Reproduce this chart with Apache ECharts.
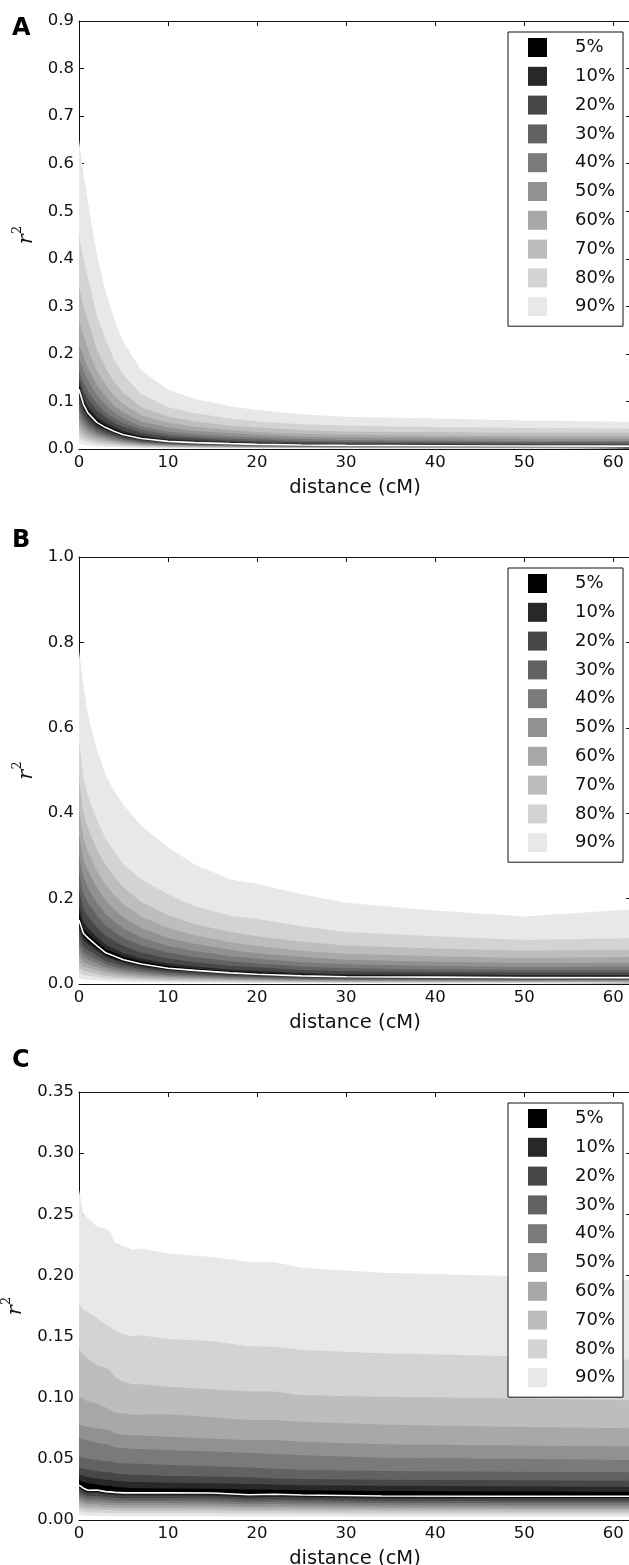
<!DOCTYPE html>
<html>
<head>
<meta charset="utf-8">
<script src="https://cdn.jsdelivr.net/npm/echarts@6/dist/echarts.min.js"></script>
<style>
  html, body { margin: 0; padding: 0; background: #fff; }
  #chart { width: 629px; height: 1565px; }
</style>
</head>
<body>
<div id="chart"></div>
<script>
// Central interval widths and their grey levels (innermost = darkest)
const bandLabels = ['5%', '10%', '20%', '30%', '40%', '50%', '60%', '70%', '80%', '90%'];
const bandColors = ['#000000', '#282828', '#474747', '#626262', '#7a7a7a', '#919191', '#a8a8a8', '#bdbdbd', '#d3d3d3', '#e8e8e8'];

// ---------- Panel A: r^2 quantiles vs distance (cM) ----------
const distA = [0, 0.5, 1, 2, 3, 4, 5, 7, 10, 13, 17, 20, 25, 30, 40, 50, 62];
const A_q95  = [0.65, 0.58, 0.52, 0.41, 0.33, 0.27, 0.225, 0.165, 0.125, 0.105, 0.09, 0.082, 0.073, 0.068, 0.064, 0.060, 0.057];
const A_q90  = [0.45, 0.40, 0.36, 0.28, 0.23, 0.185, 0.155, 0.115, 0.088, 0.075, 0.064, 0.058, 0.052, 0.049, 0.046, 0.044, 0.043];
const A_q85  = [0.34, 0.30, 0.27, 0.21, 0.17, 0.14, 0.118, 0.088, 0.068, 0.058, 0.049, 0.045, 0.040, 0.037, 0.035, 0.034, 0.034];
const A_q80  = [0.27, 0.24, 0.21, 0.165, 0.135, 0.111, 0.094, 0.071, 0.055, 0.047, 0.040, 0.036, 0.032, 0.030, 0.028, 0.027, 0.027];
const A_q75  = [0.22, 0.195, 0.17, 0.135, 0.11, 0.09, 0.077, 0.058, 0.045, 0.038, 0.033, 0.030, 0.026, 0.024, 0.023, 0.022, 0.022];
const A_q70  = [0.19, 0.165, 0.145, 0.113, 0.092, 0.076, 0.064, 0.048, 0.037, 0.031, 0.027, 0.024, 0.021, 0.019, 0.018, 0.017, 0.017];
const A_q65  = [0.165, 0.14, 0.122, 0.095, 0.077, 0.064, 0.054, 0.041, 0.031, 0.026, 0.022, 0.020, 0.017, 0.016, 0.015, 0.014, 0.014];
const A_q60  = [0.15, 0.122, 0.105, 0.081, 0.066, 0.054, 0.046, 0.034, 0.026, 0.022, 0.018, 0.016, 0.014, 0.013, 0.012, 0.011, 0.0105];
const A_q55  = [0.14, 0.108, 0.090, 0.068, 0.055, 0.046, 0.038, 0.028, 0.021, 0.018, 0.015, 0.013, 0.011, 0.010, 0.0092, 0.0086, 0.0082];
const A_q525 = [0.133, 0.100, 0.082, 0.062, 0.050, 0.041, 0.034, 0.025, 0.0185, 0.0155, 0.013, 0.0113, 0.0097, 0.0088, 0.0080, 0.0075, 0.0071];
const A_med  = [0.125, 0.094, 0.076, 0.056, 0.045, 0.037, 0.030, 0.022, 0.016, 0.0135, 0.0112, 0.0098, 0.0085, 0.0077, 0.0069, 0.0064, 0.0061];
const A_q475 = [0.117, 0.088, 0.071, 0.052, 0.042, 0.034, 0.028, 0.0204, 0.0148, 0.0125, 0.0104, 0.0091, 0.0079, 0.0071, 0.0064, 0.0059, 0.0056];
const A_q45  = [0.109, 0.082, 0.066, 0.048, 0.039, 0.032, 0.026, 0.0189, 0.0137, 0.0116, 0.0096, 0.0084, 0.0073, 0.0066, 0.0059, 0.0055, 0.0052];
const A_q40  = [0.095, 0.071, 0.057, 0.042, 0.034, 0.028, 0.0225, 0.0163, 0.0118, 0.0100, 0.0083, 0.0072, 0.0063, 0.0057, 0.0051, 0.0047, 0.0045];
const A_q35  = [0.082, 0.061, 0.049, 0.036, 0.029, 0.024, 0.0193, 0.014, 0.0101, 0.0086, 0.0071, 0.0062, 0.0054, 0.0049, 0.0044, 0.0040, 0.0039];
const A_q30  = [0.069, 0.052, 0.042, 0.031, 0.025, 0.020, 0.0165, 0.012, 0.0087, 0.0073, 0.0061, 0.0053, 0.0046, 0.0042, 0.0037, 0.0034, 0.0033];
const A_q25  = [0.057, 0.043, 0.035, 0.026, 0.021, 0.0168, 0.0138, 0.010, 0.0073, 0.0061, 0.0051, 0.0044, 0.0038, 0.0035, 0.0031, 0.0029, 0.0027];
const A_q20  = [0.046, 0.035, 0.028, 0.021, 0.0168, 0.0137, 0.0112, 0.0081, 0.0059, 0.005, 0.0041, 0.0036, 0.0031, 0.0028, 0.0025, 0.0023, 0.0022];
const A_q15  = [0.035, 0.026, 0.021, 0.0157, 0.0127, 0.0104, 0.0085, 0.0062, 0.0045, 0.0038, 0.0031, 0.0027, 0.0024, 0.0022, 0.0019, 0.0018, 0.0017];
const A_q10  = [0.024, 0.018, 0.0145, 0.0107, 0.0086, 0.0071, 0.0058, 0.0042, 0.0031, 0.0026, 0.0021, 0.0019, 0.0016, 0.0015, 0.0013, 0.0012, 0.0012];
const A_q5   = [0.012, 0.009, 0.0073, 0.0054, 0.0044, 0.0036, 0.0029, 0.0021, 0.0016, 0.0013, 0.0011, 0.0009, 0.0008, 0.0007, 0.0007, 0.0006, 0.0006];

// ---------- Panel B ----------
const distB = [0, 0.5, 1, 2, 3, 4, 5, 7, 10, 13, 17, 20, 25, 30, 40, 50, 62];
const B_q95  = [0.78, 0.70, 0.63, 0.55, 0.49, 0.45, 0.42, 0.37, 0.32, 0.28, 0.245, 0.235, 0.21, 0.19, 0.172, 0.158, 0.175];
const B_q90  = [0.57, 0.48, 0.44, 0.385, 0.34, 0.31, 0.28, 0.245, 0.21, 0.182, 0.16, 0.152, 0.135, 0.122, 0.112, 0.103, 0.107];
const B_q85  = [0.48, 0.40, 0.365, 0.315, 0.278, 0.25, 0.226, 0.192, 0.161, 0.14, 0.122, 0.112, 0.099, 0.090, 0.083, 0.078, 0.080];
const B_q80  = [0.41, 0.34, 0.31, 0.265, 0.232, 0.208, 0.187, 0.158, 0.131, 0.114, 0.098, 0.089, 0.078, 0.071, 0.065, 0.061, 0.063];
const B_q75  = [0.35, 0.29, 0.265, 0.225, 0.195, 0.174, 0.156, 0.131, 0.108, 0.094, 0.080, 0.072, 0.063, 0.057, 0.052, 0.049, 0.050];
const B_q70  = [0.30, 0.25, 0.225, 0.19, 0.163, 0.145, 0.130, 0.109, 0.089, 0.077, 0.065, 0.059, 0.051, 0.046, 0.042, 0.040, 0.041];
const B_q65  = [0.26, 0.21, 0.19, 0.160, 0.137, 0.121, 0.108, 0.090, 0.073, 0.063, 0.053, 0.048, 0.041, 0.037, 0.034, 0.033, 0.033];
const B_q60  = [0.22, 0.175, 0.158, 0.133, 0.113, 0.100, 0.089, 0.074, 0.060, 0.051, 0.043, 0.039, 0.033, 0.030, 0.028, 0.027, 0.027];
const B_q55  = [0.185, 0.145, 0.131, 0.110, 0.092, 0.082, 0.072, 0.060, 0.048, 0.041, 0.034, 0.031, 0.026, 0.023, 0.022, 0.021, 0.021];
const B_q525 = [0.165, 0.13, 0.118, 0.099, 0.082, 0.073, 0.064, 0.053, 0.042, 0.036, 0.030, 0.027, 0.022, 0.020, 0.019, 0.018, 0.018];
const B_med  = [0.150, 0.119, 0.108, 0.090, 0.073, 0.065, 0.057, 0.047, 0.037, 0.032, 0.026, 0.023, 0.019, 0.017, 0.016, 0.015, 0.015];
const B_q475 = [0.140, 0.111, 0.100, 0.084, 0.068, 0.060, 0.053, 0.044, 0.034, 0.030, 0.024, 0.021, 0.0177, 0.0158, 0.0149, 0.0140, 0.0140];
const B_q45  = [0.129, 0.102, 0.093, 0.077, 0.063, 0.056, 0.049, 0.040, 0.032, 0.0275, 0.0224, 0.0198, 0.0163, 0.0146, 0.0138, 0.0129, 0.0129];
const B_q40  = [0.111, 0.088, 0.080, 0.067, 0.054, 0.048, 0.042, 0.035, 0.0274, 0.0237, 0.0192, 0.017, 0.0141, 0.0126, 0.0118, 0.0111, 0.0111];
const B_q35  = [0.095, 0.075, 0.068, 0.057, 0.046, 0.041, 0.036, 0.0296, 0.0233, 0.0202, 0.0164, 0.0145, 0.012, 0.0107, 0.0101, 0.0095, 0.0095];
const B_q30  = [0.080, 0.063, 0.057, 0.048, 0.0387, 0.0345, 0.0302, 0.0249, 0.0196, 0.017, 0.0138, 0.0122, 0.0101, 0.009, 0.0085, 0.008, 0.008];
const B_q25  = [0.066, 0.052, 0.0475, 0.0396, 0.0321, 0.0286, 0.0251, 0.0207, 0.0163, 0.0141, 0.0114, 0.0101, 0.0084, 0.0075, 0.007, 0.0066, 0.0066];
const B_q20  = [0.0525, 0.0417, 0.0378, 0.0315, 0.0256, 0.0228, 0.02, 0.0165, 0.013, 0.0112, 0.0091, 0.0081, 0.0067, 0.006, 0.0056, 0.0053, 0.0053];
const B_q15  = [0.039, 0.031, 0.0281, 0.0234, 0.019, 0.0169, 0.0148, 0.0122, 0.0096, 0.0083, 0.0068, 0.006, 0.0049, 0.0044, 0.0042, 0.0039, 0.0039];
const B_q10  = [0.027, 0.0214, 0.0194, 0.0162, 0.0131, 0.0117, 0.0103, 0.0085, 0.0067, 0.0058, 0.0047, 0.0041, 0.0034, 0.0031, 0.0029, 0.0027, 0.0027];
const B_q5   = [0.0135, 0.0107, 0.0097, 0.0081, 0.0066, 0.0059, 0.0051, 0.0042, 0.0033, 0.0029, 0.0023, 0.0021, 0.0017, 0.0015, 0.0014, 0.0014, 0.0014];

// ---------- Panel C ----------
const distC = [0, 0.5, 1, 2, 3, 3.5, 4, 5, 6, 7, 10, 15, 19, 22, 25, 34, 48, 62];
const C_q95  = [0.27, 0.25, 0.247, 0.240, 0.238, 0.236, 0.227, 0.224, 0.221, 0.222, 0.218, 0.215, 0.211, 0.2107, 0.2063, 0.2022, 0.1995, 0.196];
const C_q90  = [0.176, 0.172, 0.170, 0.165, 0.160, 0.158, 0.155, 0.152, 0.150, 0.151, 0.148, 0.1464, 0.142, 0.1417, 0.139, 0.1363, 0.1341, 0.131];
const C_q85  = [0.140, 0.135, 0.132, 0.127, 0.124, 0.1227, 0.117, 0.113, 0.111, 0.111, 0.109, 0.107, 0.105, 0.105, 0.102, 0.1008, 0.0995, 0.098];
const C_q80  = [0.101, 0.099, 0.097, 0.0955, 0.092, 0.090, 0.088, 0.0872, 0.086, 0.086, 0.0865, 0.084, 0.0818, 0.0818, 0.0804, 0.078, 0.0763, 0.075];
const C_q75  = [0.078, 0.077, 0.076, 0.075, 0.074, 0.0736, 0.071, 0.0695, 0.069, 0.069, 0.068, 0.0665, 0.0654, 0.0654, 0.064, 0.062, 0.061, 0.060];
const C_q70  = [0.067, 0.066, 0.065, 0.063, 0.062, 0.061, 0.0595, 0.0586, 0.058, 0.058, 0.057, 0.056, 0.055, 0.054, 0.053, 0.051, 0.050, 0.049];
const C_q65  = [0.052, 0.051, 0.050, 0.049, 0.048, 0.048, 0.047, 0.0465, 0.046, 0.046, 0.045, 0.044, 0.043, 0.042, 0.041, 0.040, 0.0395, 0.039];
const C_q60  = [0.043, 0.042, 0.041, 0.040, 0.039, 0.039, 0.038, 0.0375, 0.037, 0.037, 0.036, 0.0355, 0.035, 0.034, 0.0335, 0.033, 0.0325, 0.032];
const C_q55  = [0.037, 0.036, 0.035, 0.034, 0.033, 0.033, 0.032, 0.0315, 0.031, 0.031, 0.0305, 0.030, 0.0295, 0.029, 0.0285, 0.028, 0.0275, 0.027];
const C_q525 = [0.033, 0.031, 0.030, 0.029, 0.028, 0.028, 0.027, 0.0265, 0.026, 0.026, 0.0258, 0.0255, 0.025, 0.0248, 0.0243, 0.0238, 0.0233, 0.023];
const C_med  = [0.0286, 0.026, 0.0243, 0.0245, 0.0232, 0.023, 0.0226, 0.0222, 0.0222, 0.0222, 0.0222, 0.0221, 0.0206, 0.021, 0.0205, 0.0196, 0.0194, 0.0194];
const C_q475 = [0.0272, 0.0247, 0.0231, 0.0233, 0.022, 0.0219, 0.0215, 0.0211, 0.0211, 0.0211, 0.0211, 0.021, 0.0196, 0.02, 0.0195, 0.0186, 0.0184, 0.0184];
const C_q45  = [0.0257, 0.0234, 0.0219, 0.022, 0.0209, 0.0207, 0.0203, 0.02, 0.02, 0.02, 0.02, 0.0199, 0.0185, 0.0189, 0.0185, 0.0176, 0.0175, 0.0175];
const C_q40  = [0.0229, 0.0208, 0.0194, 0.0196, 0.0186, 0.0184, 0.0181, 0.0178, 0.0178, 0.0178, 0.0178, 0.0177, 0.0165, 0.0168, 0.0164, 0.0157, 0.0155, 0.0155];
const C_q35  = [0.0203, 0.0185, 0.0173, 0.0174, 0.0165, 0.0163, 0.016, 0.0158, 0.0158, 0.0158, 0.0158, 0.0157, 0.0146, 0.0149, 0.0146, 0.0139, 0.0138, 0.0138];
const C_q30  = [0.0177, 0.0161, 0.0151, 0.0152, 0.0144, 0.0143, 0.014, 0.0138, 0.0138, 0.0138, 0.0138, 0.0137, 0.0128, 0.013, 0.0127, 0.0122, 0.012, 0.012];
const C_q25  = [0.0152, 0.0138, 0.0129, 0.013, 0.0123, 0.0122, 0.012, 0.0118, 0.0118, 0.0118, 0.0118, 0.0117, 0.0109, 0.0111, 0.0109, 0.0104, 0.0103, 0.0103];
const C_q20  = [0.0126, 0.0114, 0.0107, 0.0108, 0.0102, 0.0101, 0.0099, 0.0098, 0.0098, 0.0098, 0.0098, 0.0097, 0.0091, 0.0092, 0.009, 0.0086, 0.0085, 0.0085];
const C_q15  = [0.01, 0.0091, 0.0085, 0.0086, 0.0081, 0.0081, 0.0079, 0.0078, 0.0078, 0.0078, 0.0078, 0.0077, 0.0072, 0.0074, 0.0072, 0.0069, 0.0068, 0.0068];
const C_q10  = [0.0072, 0.0065, 0.0061, 0.0061, 0.0058, 0.0058, 0.0057, 0.0056, 0.0056, 0.0056, 0.0056, 0.0055, 0.0052, 0.0053, 0.0051, 0.0049, 0.0049, 0.0049];
const C_q5   = [0.004, 0.0036, 0.0034, 0.0034, 0.0032, 0.0032, 0.0032, 0.0031, 0.0031, 0.0031, 0.0031, 0.0031, 0.0029, 0.0029, 0.0029, 0.0027, 0.0027, 0.0027];

// Axis tick settings per panel
const xTicks = { min: 0, max: 62, interval: 10 };
const yTicksA = { min: 0, max: 0.9, interval: 0.1, digits: 1 };
const yTicksB = { min: 0, max: 1.0, interval: 0.2, digits: 1 };
const yTicksC = { min: 0, max: 0.35, interval: 0.05, digits: 2 };

const panels = [
  { letter: 'A', letterTop: 17, top: 21, height: 428, dist: distA, y: yTicksA,
    upper: [A_q525, A_q55, A_q60, A_q65, A_q70, A_q75, A_q80, A_q85, A_q90, A_q95],
    lower: [A_q475, A_q45, A_q40, A_q35, A_q30, A_q25, A_q20, A_q15, A_q10, A_q5], median: A_med },
  { letter: 'B', letterTop: 529, top: 557, height: 427, dist: distB, y: yTicksB,
    upper: [B_q525, B_q55, B_q60, B_q65, B_q70, B_q75, B_q80, B_q85, B_q90, B_q95],
    lower: [B_q475, B_q45, B_q40, B_q35, B_q30, B_q25, B_q20, B_q15, B_q10, B_q5], median: B_med },
  { letter: 'C', letterTop: 1049, top: 1092, height: 428, dist: distC, y: yTicksC,
    upper: [C_q525, C_q55, C_q60, C_q65, C_q70, C_q75, C_q80, C_q85, C_q90, C_q95],
    lower: [C_q475, C_q45, C_q40, C_q35, C_q30, C_q25, C_q20, C_q15, C_q10, C_q5], median: C_med }
];

const FONT = 'DejaVu Sans';
const INK = '#111';
const PLOT_LEFT = 79;
const PLOT_WIDTH = 552;

const grid = [], xAxis = [], yAxis = [], series = [], legend = [], graphic = [];

function pairs(dist, vals) { return dist.map((d, j) => [d, vals[j]]); }

function areaSeries(p, vals, color, name) {
  return {
    type: 'line', name: name, xAxisIndex: p * 2, yAxisIndex: p * 2,
    data: pairs(panels[p].dist, vals),
    symbol: 'none', smooth: false, silent: true,
    color: color, itemStyle: { color: color },
    lineStyle: { width: 0, color: color },
    areaStyle: { color: color, opacity: 1, origin: 'start' }
  };
}

const tickStyle = { inside: true, length: 5, lineStyle: { color: INK, width: 1 } };
const lineStyleAxis = { show: true, onZero: false, lineStyle: { color: INK, width: 1 } };

panels.forEach((pn, p) => {
  grid.push({ left: PLOT_LEFT, top: pn.top, width: PLOT_WIDTH, height: pn.height, outerBoundsMode: 'none', containLabel: false });

  // bottom axis with labels, top axis mirrored ticks only
  xAxis.push({
    type: 'value', gridIndex: p, position: 'bottom', min: xTicks.min, max: xTicks.max, interval: xTicks.interval,
    axisLine: lineStyleAxis, axisTick: tickStyle, splitLine: { show: false },
    axisLabel: { color: INK, fontFamily: FONT, fontSize: 16.5, margin: 5, showMaxLabel: false,
      formatter: v => String(Math.round(v)) },
    name: 'distance (cM)', nameLocation: 'middle', nameGap: 29,
    nameTextStyle: { color: INK, fontFamily: FONT, fontSize: 19.5 }
  });
  xAxis.push({
    type: 'value', gridIndex: p, position: 'top', min: xTicks.min, max: xTicks.max, interval: xTicks.interval,
    axisLine: lineStyleAxis, axisTick: tickStyle, splitLine: { show: false }, axisLabel: { show: false }
  });

  yAxis.push({
    type: 'value', gridIndex: p, position: 'left', min: pn.y.min, max: pn.y.max, interval: pn.y.interval,
    axisLine: lineStyleAxis, axisTick: tickStyle, splitLine: { show: false },
    axisLabel: { color: INK, fontFamily: FONT, fontSize: 16.5, margin: 5,
      formatter: v => v.toFixed(pn.y.digits) },
    name: '{r|r}{s|2}', nameLocation: 'middle', nameRotate: 90, nameGap: 37,
    nameTextStyle: {
      color: INK,
      rich: {
        r: { fontFamily: 'DejaVu Serif', fontStyle: 'italic', fontSize: 21, color: INK, verticalAlign: 'bottom', lineHeight: 26 },
        s: { fontFamily: 'DejaVu Serif', fontSize: 13, color: INK, verticalAlign: 'top', lineHeight: 26 }
      }
    }
  });
  yAxis.push({
    type: 'value', gridIndex: p, position: 'right', min: pn.y.min, max: pn.y.max, interval: pn.y.interval,
    axisLine: lineStyleAxis, axisTick: tickStyle, splitLine: { show: false }, axisLabel: { show: false }
  });

  // Upper bounds from the widest interval inwards, painted over one another
  for (let k = 9; k >= 0; k--) series.push(areaSeries(p, pn.upper[k], bandColors[k], bandLabels[k]));
  // Lower bounds from the narrowest interval outwards
  for (let k = 0; k < 9; k++) series.push(areaSeries(p, pn.lower[k], bandColors[k + 1], bandLabels[k + 1]));
  series.push(areaSeries(p, pn.lower[9], '#ffffff', 'outside 90%'));

  // Median as a white line
  series.push({
    type: 'line', name: 'median', xAxisIndex: p * 2, yAxisIndex: p * 2,
    data: pairs(pn.dist, pn.median), symbol: 'none', silent: true, z: 5,
    lineStyle: { color: '#ffffff', width: 1.6 }
  });

  legend.push({
    data: bandLabels, orient: 'vertical', left: 508, top: pn.top + 11,
    backgroundColor: '#ffffff', borderColor: INK, borderWidth: 1, borderRadius: 0,
    padding: [6, 8, 10, 20], itemGap: 9.8, itemWidth: 19, itemHeight: 19,
    icon: 'rect', selectedMode: false, z: 10,
    itemStyle: { borderWidth: 0 },
    textStyle: { color: INK, fontFamily: FONT, fontSize: 18, lineHeight: 19, padding: [0, 0, 0, 23] }
  });

  graphic.push({
    type: 'text', left: 12, top: pn.letterTop,
    style: { text: pn.letter, font: 'bold 24px "DejaVu Sans"', fill: '#000' }
  });
});

const chart = echarts.init(document.getElementById('chart'), null, { renderer: 'canvas' });
chart.setOption({
  animation: false,
  backgroundColor: '#ffffff',
  grid, xAxis, yAxis, series, legend, graphic
});
</script>
</body>
</html>
